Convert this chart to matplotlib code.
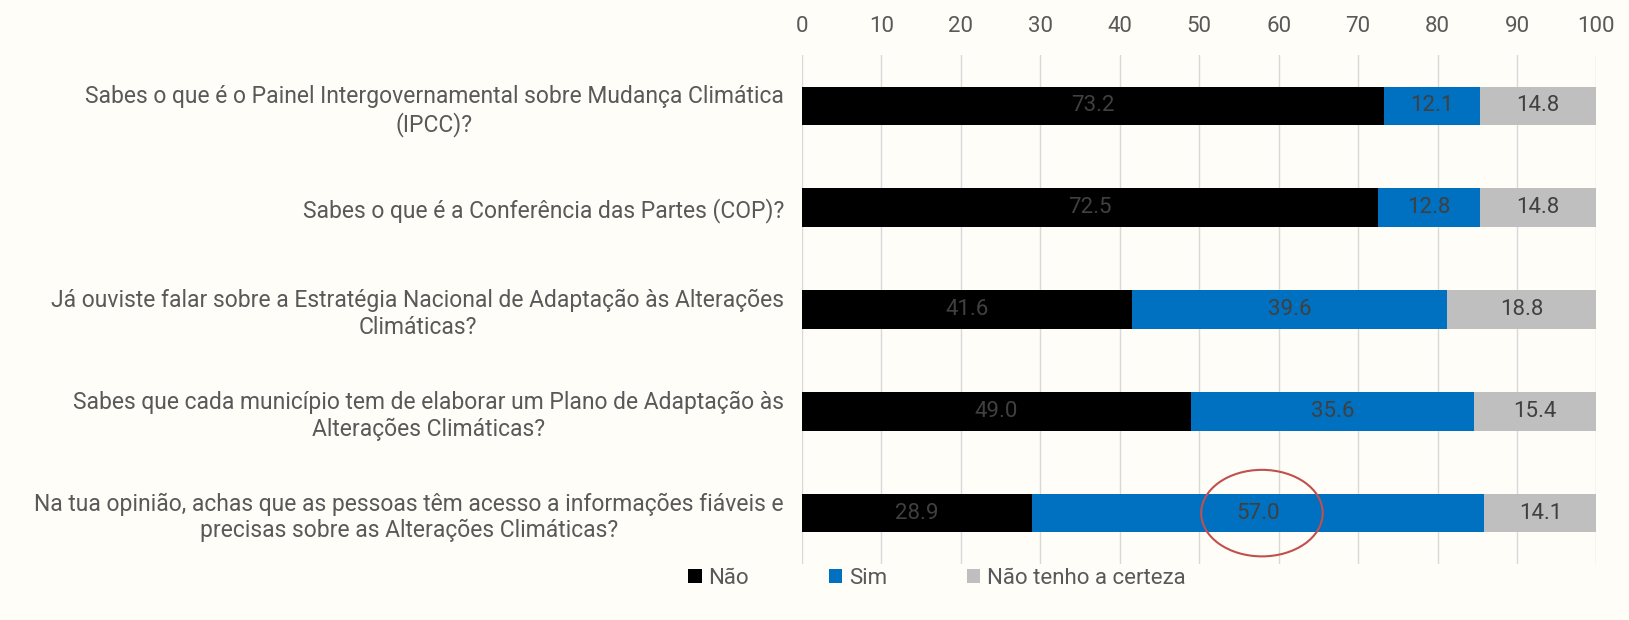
import matplotlib
matplotlib.use("Agg")
import matplotlib.pyplot as plt
from matplotlib.patches import Ellipse

questions = [
    "Sabes o que é o Painel Intergovernamental sobre Mudança Climática\n(IPCC)?",
    "Sabes o que é a Conferência das Partes (COP)?",
    "Já ouviste falar sobre a Estratégia Nacional de Adaptação às Alterações\nClimáticas?",
    "Sabes que cada município tem de elaborar um Plano de Adaptação às\nAlterações Climáticas?",
    "Na tua opinião, achas que as pessoas têm acesso a informações fiáveis e\nprecisas sobre as Alterações Climáticas?",
]
nao = [73.2, 72.5, 41.6, 49.0, 28.9]
sim = [12.1, 12.8, 39.6, 35.6, 57.0]
incerto = [14.8, 14.8, 18.8, 15.4, 14.1]
series_names = ["Não", "Sim", "Não tenho a certeza"]

plt.rcParams["font.family"] = ["Roboto", "DejaVu Sans"]

bg = "#FFFDF8"
txt = "#595959"
fig = plt.figure(figsize=(16.29, 6.20), dpi=100, facecolor=bg)
ax = fig.add_axes([0.4923, 0.0903, 0.4877, 0.8210], facecolor=bg)

y = list(range(len(questions)))
colors = ["#000000", "#0070C0", "#BFBFBF"]
left = [0] * len(y)
for vals, c, name in zip([nao, sim, incerto], colors, series_names):
    bars = ax.barh(y, vals, left=left, height=0.38, color=c, label=name, zorder=3)
    ax.bar_label(bars, labels=[f"{v:.1f}" for v in vals], label_type="center",
                 color="#404040", fontsize=16)
    left = [a + b for a, b in zip(left, vals)]

ax.set_xlim(0, 100)
ax.set_ylim(len(y) - 0.5, -0.5)
ax.set_xticks(range(0, 101, 10))
ax.xaxis.tick_top()
ax.tick_params(axis="x", length=0, labelsize=16, labelcolor=txt, pad=13)
ax.set_yticks(y)
ax.set_yticklabels(questions, fontsize=16.5, color=txt, ha="right", multialignment="center")
ax.tick_params(axis="y", length=0, pad=13)
ax.grid(axis="x", color="#D9D9D9", lw=1, zorder=0)
for s in ax.spines.values():
    s.set_visible(False)

# highlight around the 57.0 value
ax.add_patch(Ellipse((57.9, 4), 15.3, 0.85, fill=False, edgecolor="#C0504D", lw=1.5, zorder=5))

ax.legend(loc="center left", bbox_to_anchor=(-0.143, -0.028), ncol=3, frameon=False,
          fontsize=16, labelcolor=txt, handlelength=0.6, handleheight=0.6,
          handletextpad=0.3, columnspacing=3.6, borderaxespad=0, borderpad=0)

fig.savefig("out.png", dpi=100, facecolor=bg)
